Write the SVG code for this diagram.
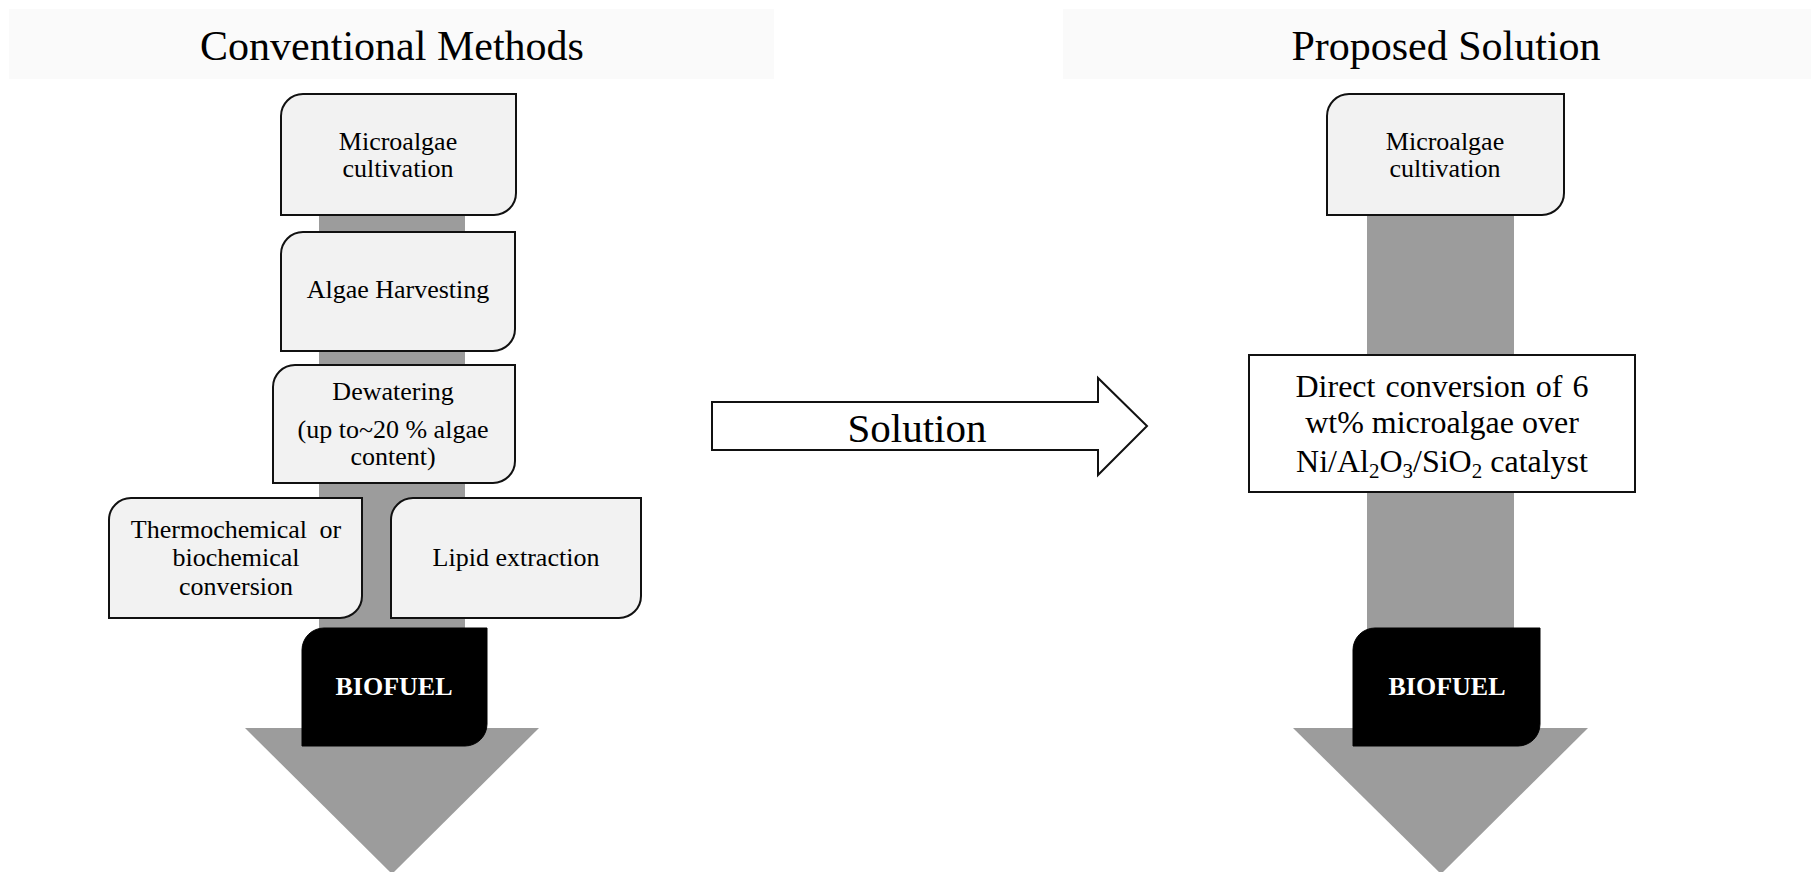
<svg xmlns="http://www.w3.org/2000/svg" width="1811" height="872" viewBox="0 0 1811 872">
<style>
  text { font-family: "Liberation Serif", "Times New Roman", serif; fill: #000; text-anchor: middle; }
  .hdr { font-size: 42px; }
  .lbl { font-size: 26px; }
  .big { font-size: 32px; }
  .sol { font-size: 41px; }
  .bio { font-size: 26px; font-weight: bold; fill: #fff; }
  .sub { font-size: 21px; }
  .band { fill: #fafafa; }
  .box { fill: #f2f2f2; stroke: #111; stroke-width: 2; }
  .dark { fill: #000; stroke: #000; stroke-width: 1; }
  .flow { fill: #9c9c9c; }
</style>
<rect width="1811" height="872" fill="#fff"/>

<g id="header-left">
  <rect class="band" x="9" y="9" width="765" height="70"/>
  <text class="hdr" x="392" y="60">Conventional Methods</text>
</g>
<g id="header-right">
  <rect class="band" x="1063" y="9" width="748" height="70"/>
  <text class="hdr" x="1446" y="60">Proposed Solution</text>
</g>

<g id="connectors">
  <rect class="flow" x="319" y="200" width="146" height="540"/>
  <polygon class="flow" points="245,728 539,728 392,874"/>
  <rect class="flow" x="1367" y="200" width="147" height="540"/>
  <polygon class="flow" points="1293,728 1588,728 1441,874"/>
  <g id="solution-arrow">
    <polygon points="712,402 1098,402 1098,378 1147,426 1098,475 1098,450 712,450" fill="#fff" stroke="#111" stroke-width="2"/>
    <text class="sol" x="917" y="442">Solution</text>
  </g>
</g>

<g id="node-cultivation-left">
  <path class="box" d="M303,94 H516 V193 A22,22 0 0 1 494,215 H281 V116 A22,22 0 0 1 303,94 Z"/>
  <text class="lbl" x="398" y="150">Microalgae</text>
  <text class="lbl" x="398" y="177">cultivation</text>
</g>
<g id="node-harvesting">
  <path class="box" d="M303,232 H515 V329 A22,22 0 0 1 493,351 H281 V254 A22,22 0 0 1 303,232 Z"/>
  <text class="lbl" x="398" y="298">Algae Harvesting</text>
</g>
<g id="node-dewatering">
  <path class="box" d="M295,365 H515 V461 A22,22 0 0 1 493,483 H273 V387 A22,22 0 0 1 295,365 Z"/>
  <text class="lbl" x="393" y="400">Dewatering</text>
  <text class="lbl" x="393" y="438">(up to~20 % algae</text>
  <text class="lbl" x="393" y="465">content)</text>
</g>
<g id="node-thermochemical">
  <path class="box" d="M131,498 H362 V596 A22,22 0 0 1 340,618 H109 V520 A22,22 0 0 1 131,498 Z"/>
  <text class="lbl" x="236" y="538" word-spacing="6">Thermochemical or</text>
  <text class="lbl" x="236" y="566">biochemical</text>
  <text class="lbl" x="236" y="595">conversion</text>
</g>
<g id="node-lipid">
  <path class="box" d="M413,498 H641 V596 A22,22 0 0 1 619,618 H391 V520 A22,22 0 0 1 413,498 Z"/>
  <text class="lbl" x="516" y="566">Lipid extraction</text>
</g>
<g id="node-biofuel-left">
  <path class="dark" d="M324,628 H487 V724 A22,22 0 0 1 465,746 H302 V650 A22,22 0 0 1 324,628 Z"/>
  <text class="bio" x="394" y="695">BIOFUEL</text>
</g>

<g id="node-cultivation-right">
  <path class="box" d="M1349,94 H1564 V193 A22,22 0 0 1 1542,215 H1327 V116 A22,22 0 0 1 1349,94 Z"/>
  <text class="lbl" x="1445" y="150">Microalgae</text>
  <text class="lbl" x="1445" y="177">cultivation</text>
</g>
<g id="node-direct-conversion">
  <rect x="1249" y="355" width="386" height="137" fill="#fff" stroke="#111" stroke-width="2"/>
  <text class="big" x="1442" y="397" word-spacing="2">Direct conversion of 6</text>
  <text class="big" x="1442" y="433">wt% microalgae over</text>
  <text class="big" x="1442" y="472">Ni/Al<tspan class="sub" dy="6">2</tspan><tspan dy="-6">O</tspan><tspan class="sub" dy="6">3</tspan><tspan dy="-6">/SiO</tspan><tspan class="sub" dy="6">2</tspan><tspan dy="-6"> catalyst</tspan></text>
</g>
<g id="node-biofuel-right">
  <path class="dark" d="M1375,628 H1540 V724 A22,22 0 0 1 1518,746 H1353 V650 A22,22 0 0 1 1375,628 Z"/>
  <text class="bio" x="1447" y="695">BIOFUEL</text>
</g>
</svg>
